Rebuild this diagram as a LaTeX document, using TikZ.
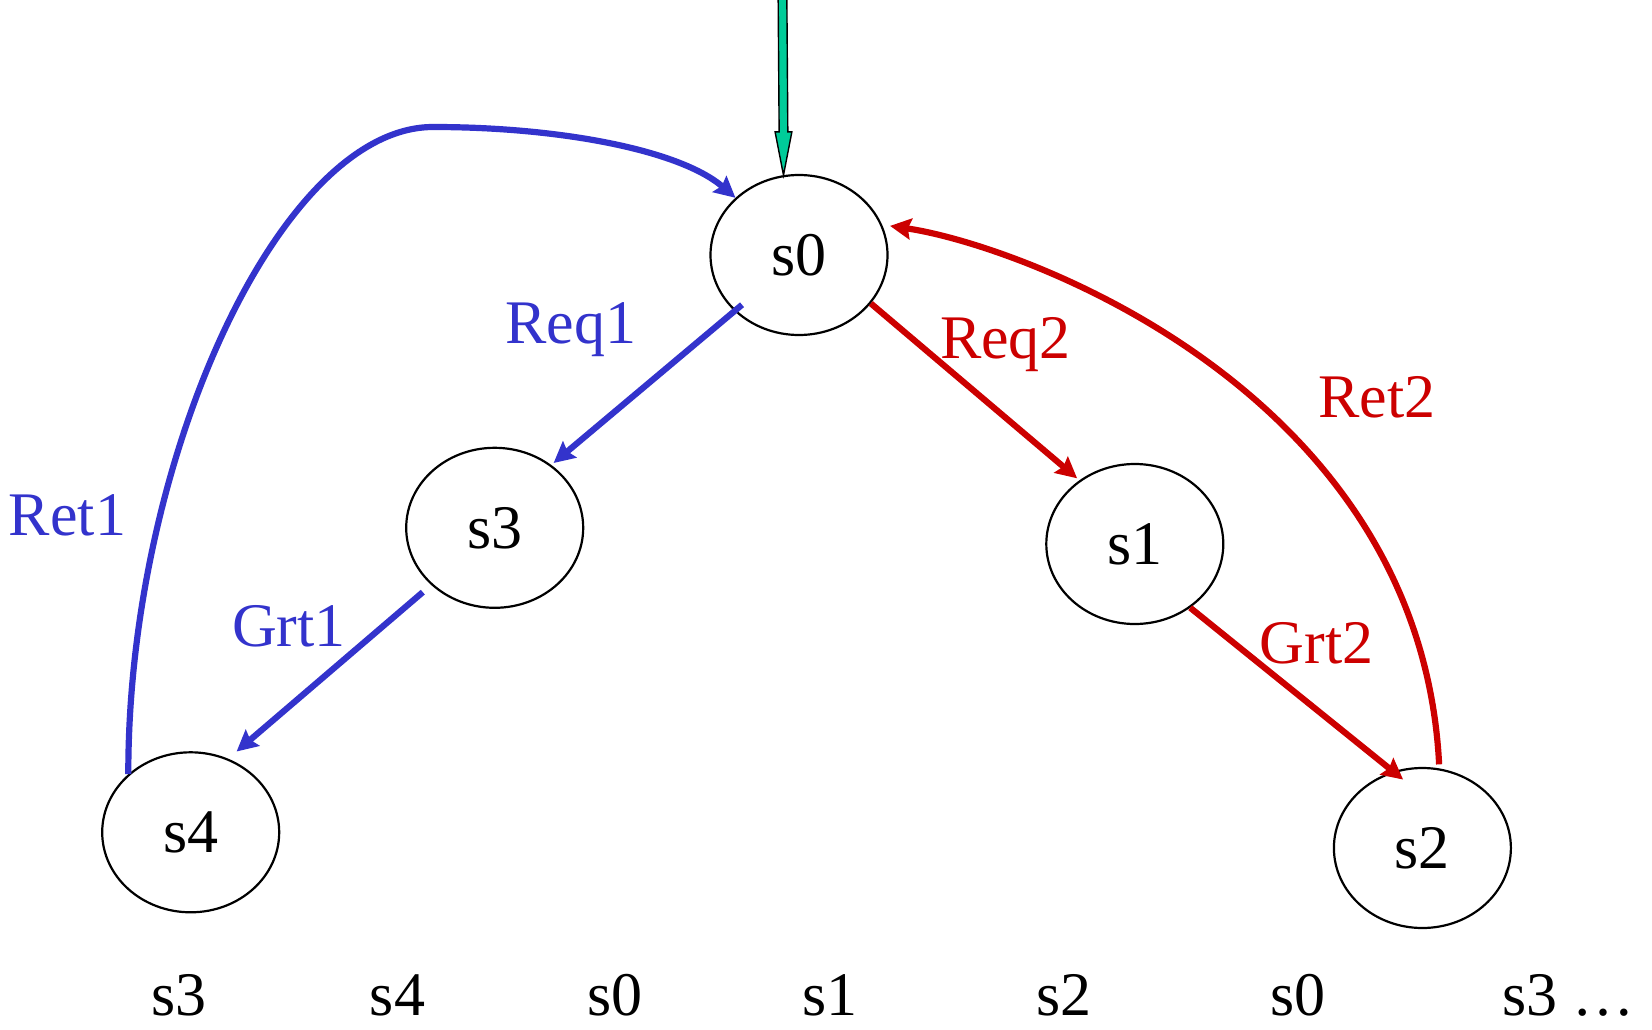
\documentclass[tikz,border=0pt]{standalone}
\usepackage{fontspec}
\setmainfont{Liberation Serif}
\usetikzlibrary{arrows.meta,calc,shapes.geometric}
\definecolor{blueE}{RGB}{51,51,204}
\definecolor{redE}{RGB}{204,0,0}
\definecolor{greenE}{RGB}{0,204,153}
\tikzset{
  state/.style={draw=black, line width=2.2pt, ellipse, minimum width=177pt, minimum height=160pt, inner sep=0pt, font=\fontsize{62}{74}\selectfont},
  lbl/.style={anchor=base, inner sep=0pt, font=\fontsize{62}{74}\selectfont},
  bluearc/.style={draw=blueE, line width=6.2pt, -{Stealth[length=21pt,width=21pt,inset=3pt]}},
  redarc/.style={draw=redE, line width=6.2pt, -{Stealth[length=21pt,width=21pt,inset=3pt]}},
  initarrow/.style={draw=black, line width=1.4pt, fill=greenE, line join=miter}
}
\begin{document}
\begin{tikzpicture}[x=1pt,y=-1pt]
\useasboundingbox (0,0) rectangle (1652,1030);
% states
\node[state] (s0) at (799,255) {s0};
\node[state] (s3) at (494.7,527.8) {s3};
\node[state] (s1) at (1134.8,544) {s1};
\node[state] (s4) at (190.7,832.3) {s4};
\node[state] (s2) at (1422.4,848) {s2};
% initial arrow
\coordinate (init) at (782.5,-3);
\coordinate (tip) at (s0.101.5);
\draw[initarrow] (tip) -- ($(tip)+(-8.4,-43.3)$) -- ($(tip)+(-4.35,-43.3)$)
  -- ($(init)+(-4.35,0)$) -- ($(init)+(4.35,0)$) -- ($(tip)+(4.35,-43.3)$)
  -- ($(tip)+(8.4,-43.3)$) -- cycle;
% transitions
\draw[bluearc, shorten <=-10pt, shorten >=3pt] (s0.221) -- (s3.48.8);
\draw[bluearc, shorten <=11pt, shorten >=11pt] (s3.222) -- (s4.63.3);
\draw[redarc, shorten >=3pt] (s0.326) -- (s1.131);
\draw[redarc, shorten >=-13pt] (s1.311) -- (s2.111);
\coordinate (r1top) at (433,127);
\draw[bluearc] (s4.137) .. controls (128,460) and (280,127) .. (r1top)
  .. controls (560,127) and (680,150) .. (s0.138);
\draw[redarc, shorten <=4pt, shorten >=8pt] (s2.78) .. controls (1420,390) and (1020,245) .. (s0.20);
% labels
\node[lbl, text=blueE] (lreq1) at (571,343) {Req1};
\node[lbl, text=redE] (lreq2) at (1005.5,358) {Req2};
\node[lbl, text=redE] (lret2) at (1376.7,417) {Ret2};
\node[lbl, text=redE] (lgrt2) at (1316.4,663) {Grt2};
\node[lbl, text=blueE] (lgrt1) at (289,646.7) {Grt1};
\node[lbl, text=blueE] (lret1) at (67.5,535) {Ret1};
% run
\node[lbl] (t1) at (179,1015) {s3};
\node[lbl] (t2) at (397.5,1015) {s4};
\node[lbl] (t3) at (615,1015) {s0};
\node[lbl] (t4) at (830,1015) {s1};
\node[lbl] (t5) at (1064,1015) {s2};
\node[lbl] (t6) at (1298.4,1015) {s0};
\node[lbl, anchor=base west] (t7) at (1502,1015) {s3 …};
\end{tikzpicture}
\end{document}
